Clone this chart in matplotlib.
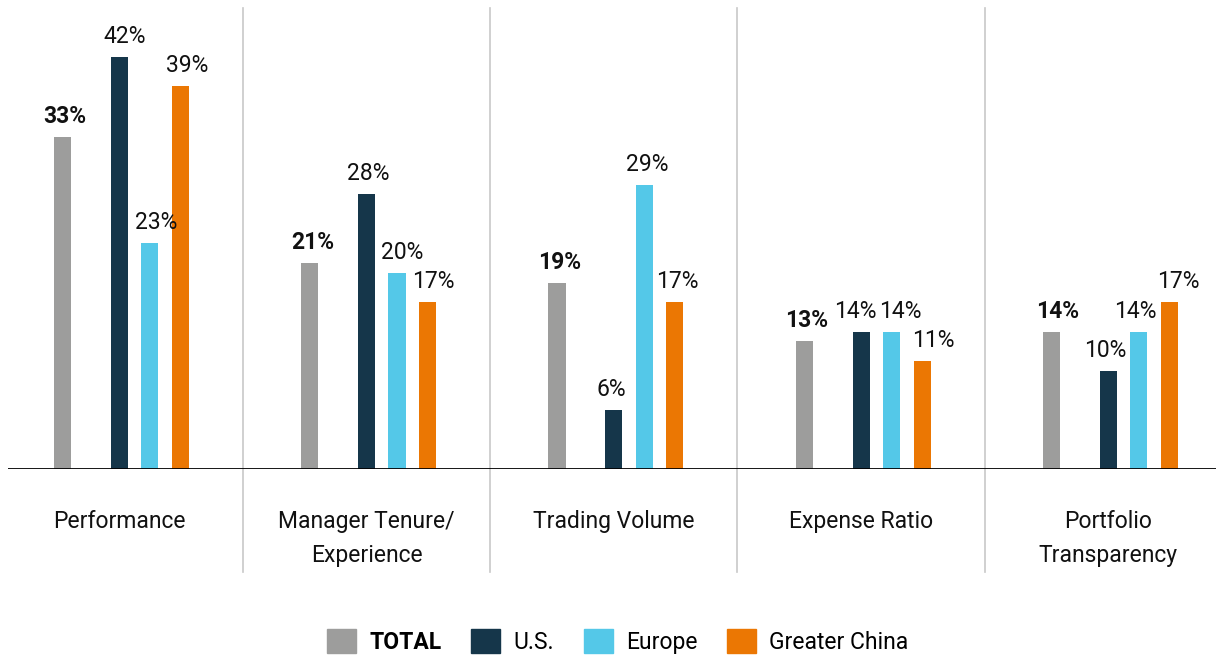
import numpy as np
import matplotlib.pyplot as plt
from matplotlib.patches import Patch
from matplotlib.lines import Line2D

plt.rcParams['font.family'] = ['Roboto', 'DejaVu Sans']

categories = ["Performance", "Manager Tenure/\nExperience", "Trading Volume",
              "Expense Ratio", "Portfolio\nTransparency"]
total = [33.8, 21, 19, 13, 14]
total_labels = ["33%", "21%", "19%", "13%", "14%"]
us = [42, 28, 6, 14, 10]
europe = [23, 20, 29, 14, 14]
china = [39, 17, 17, 11, 17]

colors = {"TOTAL": "#9D9D9C", "U.S.": "#15364A", "Europe": "#54C8E8", "Greater China": "#EB7703"}

# horizontal nudges of value labels (pixels), as placed in the original
dx_total = [2, 3, 3, 2, 6]
dx_us = [5, 2, -3, -6, -3]
dx_eu = [6, 5, 3, 9, -4]
dx_cn = [7, 6, 2, 11, 9]

fig = plt.figure(figsize=(12.16, 6.59), dpi=100)
ax = fig.add_axes([8 / 1216, 190 / 659, 1208 / 1216, 461 / 659])

x = np.arange(len(categories))
w = 0.069
offs = [-0.23, 0, 0.123, 0.247]
series = [(total, colors["TOTAL"], dx_total), (us, colors["U.S."], dx_us),
          (europe, colors["Europe"], dx_eu), (china, colors["Greater China"], dx_cn)]

fs = 16.5
for k, (vals, c, dxs) in enumerate(series):
    ax.bar(x + offs[k], vals, w, color=c)
    for i in range(len(x)):
        lab = total_labels[i] if k == 0 else f"{vals[i]}%"
        ax.annotate(lab, (x[i] + offs[k], vals[i]), xytext=(dxs[i], 14),
                    textcoords='offset pixels', ha='center', va='baseline',
                    fontsize=fs, fontweight='bold' if k == 0 else 'normal', color='#111111')

for i in range(len(x)):
    ax.annotate(categories[i], (x[i], 0), xytext=(0, -41), textcoords='offset pixels',
                ha='center', va='top', fontsize=16.5, linespacing=1.62, color='#111111')

# group separators
for b in x[:-1] + 0.5:
    ax.add_line(Line2D([b, b], [-10.5, 47], color='#C8C8C8', lw=1.2, clip_on=False))

ax.axhline(0, color='black', lw=2, zorder=5)
ax.set_xlim(-0.45, 4.435)
ax.set_ylim(0, 47)
ax.axis('off')

handles = [Patch(color=c, label=k) for k, c in colors.items()]
leg = fig.legend(handles=handles, loc='center', bbox_to_anchor=(0.508, 0.027), ncol=4,
                 frameon=False, fontsize=16.5, handlelength=1.27, handleheight=1.27,
                 handletextpad=0.57, columnspacing=1.3)
leg.get_texts()[0].set_fontweight('bold')

fig.savefig('out.png', dpi=100)
